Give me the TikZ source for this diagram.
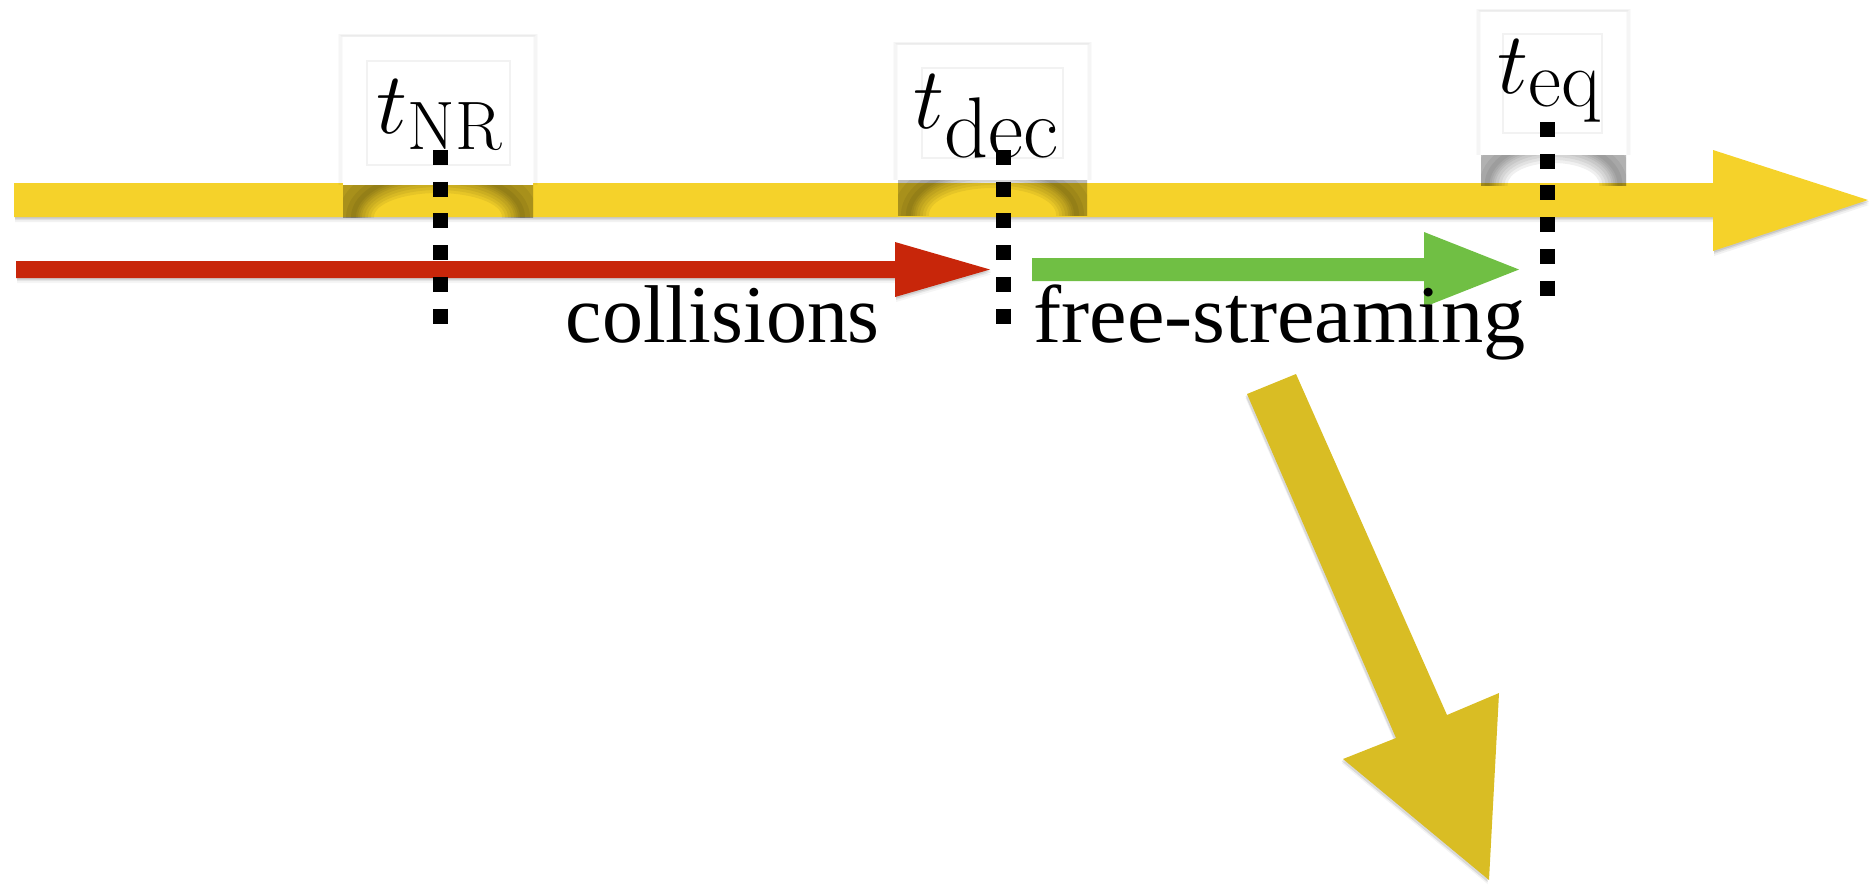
\documentclass[tikz,border=0pt]{standalone}
\usepackage{fontspec}
\newfontfamily\labelfont{Liberation Serif}

\definecolor{barYellow}{HTML}{F5D22A}
\definecolor{diagYellow}{HTML}{D9BD24}
\definecolor{collRed}{HTML}{C8260A}
\definecolor{freeGreen}{HTML}{70BF44}

\tikzset{
  marker/.style={line width=0.15cm, dash pattern=on 0.15cm off 0.167cm},
  labelframe/.style={fill=white},
  innerframe/.style={draw=black!5, line width=0.02cm},
  caption/.style={inner sep=0pt, anchor=base west, font=\labelfont\fontsize{23.3}{28}\selectfont},
  tlabel/.style={inner sep=0pt, anchor=base west},
}

% curled shadow under a label frame: left, right, frame bottom, depth
\newcommand\curlshadow[4]{%
  \pgfmathsetmacro\cxx{(#1+#2)/2}%
  \pgfmathsetmacro\rxx{(#2-#1)*0.40}%
  \pgfmathsetmacro\ryy{#4+4}%
  \begin{scope}
    \clip (#1,#3) rectangle (#2,#3+#4);
    \foreach \a/\b in {-12/90, -9/90, -6/70, -3/50, 0/34, 2/24, 4/16, 6/11}{%
      \fill[black, opacity=0.06, even odd rule]
        (\cxx,#3+#4) ellipse [x radius=\rxx+\a, y radius=\ryy+\a]
        (\cxx,#3+#4) ellipse [x radius=\rxx+\b, y radius=\ryy+\b];
    }%
  \end{scope}%
}

% soft halo round a label frame: left, top, right, bottom
\newcommand\framehalo[4]{%
  \foreach \k in {1,2,3,4}{%
    \draw[black, opacity=0.02, line width=0.025cm] (#1-\k,#4) -- (#1-\k,#2-\k/2) -- (#3+\k,#2-\k/2) -- (#3+\k,#4);
  }%
}

\DeclareMathSizes{27.5}{27.5}{19.5}{14}
\DeclareMathSizes{35}{35}{24.5}{17.5}
\DeclareMathSizes{32.5}{32.5}{23}{16}

\begin{document}
\begin{tikzpicture}[x=0.01cm, y=-0.01cm]
\useasboundingbox (0,0) rectangle (1870,890);

% ---- main time axis (yellow) ----
\foreach \s/\o in {1.5/0.10, 3/0.08, 5/0.05}{
  \begin{scope}[shift={(1,\s)}]
    \fill[black, opacity=\o] (14,183) -- (1713,183) -- (1713,150) -- (1868,200)
      -- (1713,251) -- (1713,217) -- (14,217) -- cycle;
  \end{scope}
}
\fill[barYellow] (14,183) -- (1713,183) -- (1713,150) -- (1868,200)
  -- (1713,251) -- (1713,217) -- (14,217) -- cycle;

% ---- label frames ----
\curlshadow{343}{533}{185}{32}
\curlshadow{898}{1087}{180}{35}
\curlshadow{1481}{1626}{155}{30}

\framehalo{343}{37}{533}{185}
\framehalo{898}{45}{1087}{180}
\framehalo{1481}{12}{1626}{155}

\fill[labelframe] (343,37) rectangle (533,185);
\fill[labelframe] (898,45) rectangle (1087,180);
\fill[labelframe] (1481,12) rectangle (1626,155);

\draw[innerframe] (367,61) rectangle (510,165);
\draw[innerframe] (922,68) rectangle (1063,158);
\draw[innerframe] (1503,34) rectangle (1602,133);

\node[tlabel] (tNR) at (376,133) {\fontsize{27.5}{33}\selectfont$t_{\mathrm{NR}}$};
\node[tlabel] (tdec) at (913,128) {\fontsize{35}{40}\selectfont$t_{\mathrm{dec}}$};
\node[tlabel] (teq) at (1497,93) {\fontsize{32.5}{38}\selectfont$t_{\mathrm{eq}}$};

% ---- collisions (red) ----
\foreach \s/\o in {1.5/0.10, 3/0.07, 5/0.04}{
  \begin{scope}[shift={(1,\s)}]
    \fill[black, opacity=\o] (16,261) -- (895,261) -- (895,242) -- (990,269.5)
      -- (895,297) -- (895,278) -- (16,278) -- cycle;
  \end{scope}
}
\fill[collRed] (16,261) -- (895,261) -- (895,242) -- (990,269.5)
  -- (895,297) -- (895,278) -- (16,278) -- cycle;

% ---- free-streaming (green) ----
\fill[freeGreen] (1032,258) -- (1424,258) -- (1424,232) -- (1519,269.5)
  -- (1424,307) -- (1424,281) -- (1032,281) -- cycle;

% ---- time markers ----
\coordinate (nrTop) at (440,150);
\coordinate (nrBot) at (440,324);
\coordinate (decTop) at (1003.5,150);
\coordinate (decBot) at (1003.5,324);
\coordinate (eqTop) at (1547,122);
\coordinate (eqBot) at (1547,298);
\draw[marker] (nrTop) -- (nrBot);
\draw[marker] (decTop) -- (decBot);
\draw[marker] (eqTop) -- (eqBot);

% ---- captions ----
\node[caption] (coll) at (565,342) {collisions};
\node[caption] (free) at (1033,342) {\scalebox{1.03}[1]{free-streaming}};

% ---- downward arrow ----
\foreach \s/\o in {2/0.10, 4/0.05}{
  \begin{scope}[shift={(-1.5,\s)}]
    \fill[black, opacity=\o] (1247,394) -- (1296,374) -- (1447,715) -- (1499,693)
      -- (1489,880) -- (1343,759) -- (1396,738) -- cycle;
  \end{scope}
}
\fill[diagYellow] (1247,394) -- (1296,374) -- (1447,715) -- (1499,693)
  -- (1489,880) -- (1343,759) -- (1396,738) -- cycle;
\end{tikzpicture}
\end{document}
